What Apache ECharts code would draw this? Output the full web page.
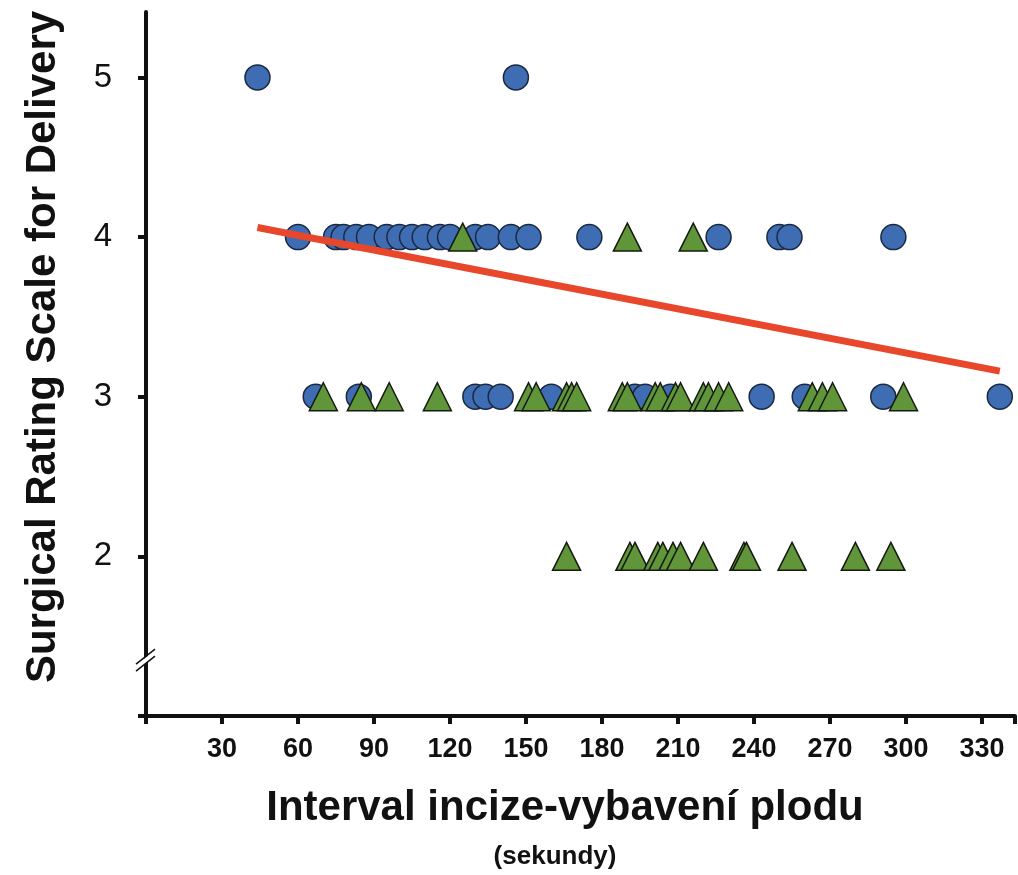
<!DOCTYPE html>
<html>
<head>
<meta charset="utf-8">
<script src="https://cdn.jsdelivr.net/npm/echarts@6/dist/echarts.min.js"></script>
<style>
  html, body { margin: 0; padding: 0; background: #fff; }
  #main { width: 1018px; height: 875px; }
</style>
</head>
<body>
<div id="main"></div>
<script>
// circles (blue) — interval in seconds, rating
var circleX5 = [44, 146];
var circleX4 = [60, 75, 78, 83, 88, 95, 100, 105, 110, 116, 120, 130, 135, 144, 151, 175, 226, 250, 254, 295];
var circleX3 = [67, 84, 130, 134, 140, 160, 193, 197, 207, 243, 260, 291, 337];
// triangles (green)
var triX4 = [125, 190, 216];
var triX3 = [70, 85, 96, 115, 151, 154, 166, 168, 170, 188, 190, 201, 203, 209, 211, 220, 222, 226, 230, 263, 267, 271, 299];
var triX2 = [166, 191, 193, 202, 204, 208, 211, 220, 236, 237, 255, 280, 294];
// regression line end points
var fitX = [44, 337];
var fitY = [4.06, 3.16];
var xTicks = [30, 60, 90, 120, 150, 180, 210, 240, 270, 300, 330];
var yTicks = [2, 3, 4, 5];

function pts(xs, y) {
  return xs.map(function (x) { return [x, y]; });
}
var circles = pts(circleX5, 5).concat(pts(circleX4, 4), pts(circleX3, 3));
var triangles = pts(triX4, 4).concat(pts(triX3, 3), pts(triX2, 2));

var myChart = echarts.init(document.getElementById('main'));
var option = {
  backgroundColor: '#fff',
  animation: false,
  grid: { left: 146, right: 0, top: 12, bottom: 159, containLabel: false },
  xAxis: {
    type: 'value',
    min: 0,
    max: 343,
    interval: 30,
    splitLine: { show: false },
    axisLine: { show: true, lineStyle: { color: '#111', width: 4 } },
    axisTick: {
      show: true, length: 8, lineStyle: { color: '#111', width: 4 },
      interval: function (i, v) { return xTicks.indexOf(v) >= 0; }
    },
    axisLabel: {
      margin: 20,
      fontFamily: 'Liberation Sans',
      fontWeight: 'bold',
      fontSize: 27,
      color: '#111',
      formatter: function (v) { return xTicks.indexOf(v) >= 0 ? String(v) : ''; }
    }
  },
  yAxis: {
    type: 'value',
    min: 1,
    max: 5.41,
    interval: 1,
    splitLine: { show: false },
    axisLine: { show: true, lineStyle: { color: '#111', width: 4 } },
    axisTick: {
      show: true, length: 8, lineStyle: { color: '#111', width: 4 },
      interval: function (i, v) { return yTicks.indexOf(v) >= 0; }
    },
    axisLabel: {
      margin: 34,
      fontFamily: 'Liberation Sans',
      fontSize: 33,
      color: '#111',
      showMaxLabel: false,
      formatter: function (v) { return yTicks.indexOf(v) >= 0 ? String(v) : ''; }
    }
  },
  graphic: [
    {
      type: 'text',
      x: 43, y: 347,
      rotation: Math.PI / 2,
      style: {
        text: 'Surgical Rating Scale for Delivery',
        fontFamily: 'Liberation Sans', fontWeight: 'bold', fontSize: 42,
        fill: '#111', align: 'center', verticalAlign: 'middle'
      }
    },
    {
      type: 'text',
      x: 565, y: 808,
      style: {
        text: 'Interval incize-vybavení plodu',
        fontFamily: 'Liberation Sans', fontWeight: 'bold', fontSize: 42,
        fill: '#111', align: 'center', verticalAlign: 'middle'
      }
    },
    {
      type: 'text',
      x: 555, y: 857,
      style: {
        text: '(sekundy)',
        fontFamily: 'Liberation Sans', fontWeight: 'bold', fontSize: 26,
        fill: '#111', align: 'center', verticalAlign: 'middle'
      }
    }
  ],
  series: [
    {
      name: 'circles',
      type: 'scatter',
      symbol: 'circle',
      symbolSize: 25,
      data: circles,
      itemStyle: { color: '#3f6db3', borderColor: '#1b2840', borderWidth: 1.5, opacity: 1 },
      z: 2
    },
    {
      name: 'triangles',
      type: 'scatter',
      symbol: 'triangle',
      symbolSize: 28,
      data: triangles,
      itemStyle: { color: '#60953a', borderColor: '#151a10', borderWidth: 1.5, opacity: 1 },
      z: 3
    },
    {
      name: 'fit',
      type: 'line',
      data: [[fitX[0], fitY[0]], [fitX[1], fitY[1]]],
      symbol: 'none',
      lineStyle: { color: '#e8472b', width: 7 },
      z: 4
    },
    {
      // axis break marks on the y axis
      name: 'break',
      type: 'custom',
      data: [[0, 1.35]],
      clip: false,
      z: 10,
      renderItem: function (params, api) {
        var p = api.coord([api.value(0), api.value(1)]);
        return {
          type: 'group',
          children: [
            { type: 'polygon', shape: { points: [[p[0] - 9, p[1] + 4], [p[0] + 9, p[1] - 10], [p[0] + 9, p[1] - 4], [p[0] - 9, p[1] + 10]] },
              style: { fill: '#fff' } },
            { type: 'line', shape: { x1: p[0] - 10, y1: p[1] + 4, x2: p[0] + 9, y2: p[1] - 11 },
              style: { stroke: '#111', lineWidth: 1.5 } },
            { type: 'line', shape: { x1: p[0] - 10, y1: p[1] + 11, x2: p[0] + 9, y2: p[1] - 4 },
              style: { stroke: '#111', lineWidth: 1.5 } }
          ]
        };
      }
    }
  ]
};
myChart.setOption(option);
</script>
</body>
</html>
